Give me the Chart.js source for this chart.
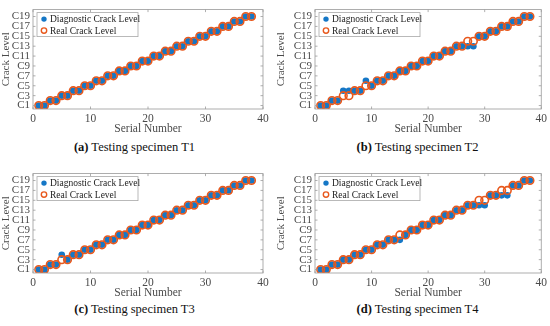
<!DOCTYPE html>
<html>
<head>
<meta charset="utf-8">
<script src="https://cdn.jsdelivr.net/npm/chart.js@4.4.1/dist/chart.umd.min.js"></script>
<style>
  body { margin: 0; background: #fff; }
  #wrap { position: relative; width: 550px; height: 326px; overflow: hidden; }
  .panel { position: absolute; }
  .cap { position: absolute; width: 275px; text-align: center; font: 12.5px 'Liberation Serif', serif; color: #111; }
</style>
</head>
<body>
<div id="wrap">
  <canvas id="c1" class="panel" width="275" height="136" style="left:0;top:0"></canvas>
  <canvas id="c2" class="panel" width="275" height="136" style="left:275px;top:0"></canvas>
  <canvas id="c3" class="panel" width="275" height="136" style="left:0;top:164px"></canvas>
  <canvas id="c4" class="panel" width="275" height="136" style="left:275px;top:164px"></canvas>
  <div class="cap" style="left:-3px;top:140px"><b>(a)</b> Testing specimen T1</div>
  <div class="cap" style="left:280px;top:140px"><b>(b)</b> Testing specimen T2</div>
  <div class="cap" style="left:-3px;top:302px"><b>(c)</b> Testing specimen T3</div>
  <div class="cap" style="left:280px;top:302px"><b>(d)</b> Testing specimen T4</div>
</div>
<script>
// serial numbers of the test samples
const serialNumbers = [1,2,3,4,5,6,7,8,9,10,11,12,13,14,15,16,17,18,19,20,21,22,23,24,25,26,27,28,29,30,31,32,33,34,35,36,37,38];
// real crack level (same for all specimens)
const realLevels = [1,1,2,2,3,3,4,4,5,5,6,6,7,7,8,8,9,9,10,10,11,11,12,12,13,13,14,14,15,15,16,16,17,17,18,18,19,19];
// diagnostic crack level per specimen
const diagT1 = [1,1,2,2,3,3,4,4,5,5,6,6,7,7,8,8,9,9,10,10,11,11,12,12,13,13,14,14,15,15,16,16,17,17,18,18,19,19];
const diagT2 = [1,1,2,2,4,4,4,4,6,5,6,6,7,7,8,8,9,9,10,10,11,11,12,12,13,13,13,13,15,15,16,16,17,17,18,18,19,19];
const diagT3 = [1,1,2,2,4,3,4,4,5,5,6,6,7,7,8,8,9,9,10,10,11,11,12,12,13,13,14,14,15,15,16,16,17,17,18,18,19,19];
const diagT4 = [1,1,2,2,3,3,4,4,5,5,6,6,7,7,7,8,9,9,10,10,11,11,12,12,13,13,14,14,14,14,16,16,16,16,18,18,19,19];

const yTickValues = [1,3,5,7,9,11,13,15,17,19];
const yTickLabels = ['C1','C3','C5','C7','C9','C11','C13','C15','C17','C19'];
const xTickValues = [0,10,20,30,40];

const BLUE = '#1577c6';
const ORANGE = '#e8581c';
const AXIS = '#4a4a4a';
const FONT = "'Liberation Serif', 'Times New Roman', serif";

function toPoints(ys) {
  return serialNumbers.map((x, i) => ({ x: x, y: ys[i] }));
}

// axes box with inward ticks, like matlab "box on"
const boxPlugin = {
  id: 'box',
  afterDraw(chart) {
    const { ctx, chartArea: a, scales } = chart;
    ctx.save();
    ctx.strokeStyle = '#9a9a9a';
    ctx.lineWidth = 0.8;
    ctx.strokeRect(a.left, a.top, a.right - a.left, a.bottom - a.top);
    ctx.beginPath();
    xTickValues.forEach(v => {
      const px = scales.x.getPixelForValue(v);
      ctx.moveTo(px, a.bottom); ctx.lineTo(px, a.bottom - 2.5);
      ctx.moveTo(px, a.top); ctx.lineTo(px, a.top + 2.5);
    });
    yTickValues.forEach(v => {
      const py = scales.y.getPixelForValue(v);
      ctx.moveTo(a.left, py); ctx.lineTo(a.left + 2.5, py);
      ctx.moveTo(a.right, py); ctx.lineTo(a.right - 2.5, py);
    });
    ctx.stroke();
    ctx.restore();
  }
};

// legend drawn inside top-left of plot area
const innerLegend = {
  id: 'innerLegend',
  afterDraw(chart) {
    const { ctx, chartArea: a } = chart;
    const bx = a.left + 4, by = a.top + 3, bw = 101, bh = 24;
    ctx.save();
    ctx.fillStyle = '#fff';
    ctx.fillRect(bx, by, bw, bh);
    ctx.strokeStyle = '#a8a8a8';
    ctx.lineWidth = 0.8;
    ctx.strokeRect(bx, by, bw, bh);
    ctx.font = '9.5px ' + FONT;
    ctx.textBaseline = 'middle';
    const ds = chart.data.datasets;
    // order: diagnostic first, real second
    const rows = [ds[1], ds[0]];
    rows.forEach((d, i) => {
      const cy = by + 6.5 + i * 11.5;
      ctx.beginPath();
      if (d.backgroundColor !== 'transparent') {
        ctx.fillStyle = d.backgroundColor;
        ctx.arc(bx + 7, cy, 2.7, 0, Math.PI * 2);
        ctx.fill();
      } else {
        ctx.strokeStyle = d.borderColor;
        ctx.lineWidth = 1.4;
        ctx.arc(bx + 7, cy, 2.7, 0, Math.PI * 2);
        ctx.stroke();
      }
      ctx.fillStyle = '#222';
      ctx.fillText(d.label, bx + 13, cy + 0.5);
    });
    ctx.restore();
  }
};

function makeChart(id, diag, yAxisWidth, rightPad) {
  new Chart(document.getElementById(id), {
    type: 'scatter',
    data: {
      datasets: [
        {
          label: 'Real Crack Level',
          data: toPoints(realLevels),
          backgroundColor: 'transparent',
          borderColor: ORANGE,
          borderWidth: 1.6,
          pointRadius: 3.8,
          order: 1
        },
        {
          label: 'Diagnostic Crack Level',
          data: toPoints(diag),
          backgroundColor: BLUE,
          borderColor: BLUE,
          borderWidth: 0,
          pointRadius: 3.3,
          order: 2
        }
      ]
    },
    options: {
      responsive: false,
      animation: false,
      devicePixelRatio: 1,
      layout: { padding: { top: 8, right: rightPad, left: 0, bottom: 0 } },
      plugins: { legend: { display: false }, tooltip: { enabled: false } },
      scales: {
        x: {
          type: 'linear',
          min: 0, max: 40,
          afterBuildTicks: s => { s.ticks = xTickValues.map(v => ({ value: v })); },
          afterFit: s => { s.height = 27; },
          grid: { display: false, drawTicks: false },
          border: { display: false },
          ticks: { color: AXIS, font: { family: FONT, size: 11.5 }, padding: 3, autoSkip: false, maxRotation: 0 },
          title: { display: true, text: 'Serial Number', color: AXIS, font: { family: FONT, size: 11.5 }, padding: { top: 0, bottom: 0 } }
        },
        y: {
          type: 'linear',
          min: 0.3, max: 20.4,
          afterBuildTicks: s => { s.ticks = yTickValues.map(v => ({ value: v })); },
          afterFit: s => { s.width = yAxisWidth; },
          grid: { display: false, drawTicks: false },
          border: { display: false },
          ticks: {
            color: AXIS, font: { family: FONT, size: 11 }, padding: 3, autoSkip: false,
            callback: v => yTickLabels[yTickValues.indexOf(v)]
          },
          title: { display: true, text: 'Crack Level', color: AXIS, font: { family: FONT, size: 11 }, padding: { top: 0, bottom: 0 } }
        }
      }
    },
    plugins: [boxPlugin, innerLegend]
  });
}

makeChart('c1', diagT1, 33, 12);
makeChart('c2', diagT2, 40, 6);
makeChart('c3', diagT3, 33, 12);
makeChart('c4', diagT4, 40, 6);
</script>
</body>
</html>
